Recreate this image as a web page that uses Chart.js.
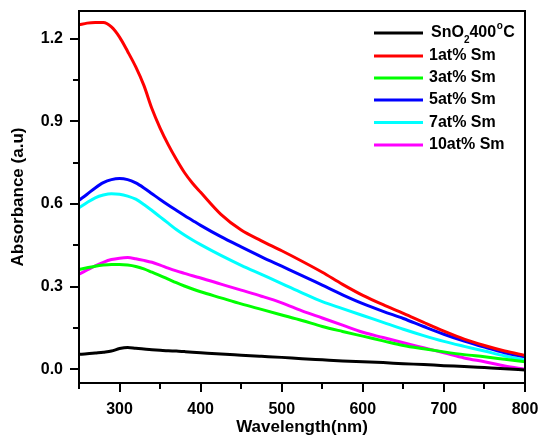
<!DOCTYPE html>
<html>
<head>
<meta charset="utf-8">
<script src="https://cdn.jsdelivr.net/npm/chart.js@4"></script>
<style>
  html, body { margin: 0; padding: 0; background: #fff; }
  #wrap { width: 542px; height: 439px; }
</style>
</head>
<body>
<div id="wrap"><canvas id="absChart" width="542" height="439"></canvas></div>
<script>
// UV-vis absorbance spectra, Sm-doped SnO2
const wavelength = [250, 260, 270, 280, 290, 300, 310, 320, 330, 340, 350, 360, 370, 380, 390, 400, 425, 450, 475, 500, 525, 550, 575, 600, 625, 650, 675, 700, 725, 750, 775, 800];

const sno2 = [0.054, 0.056, 0.059, 0.062, 0.066, 0.075, 0.079, 0.076, 0.073, 0.071, 0.069, 0.067, 0.066, 0.064, 0.062, 0.060, 0.055, 0.051, 0.047, 0.043, 0.038, 0.034, 0.030, 0.027, 0.024, 0.020, 0.017, 0.013, 0.010, 0.006, 0.002, -0.003];
const sm1  = [1.250, 1.256, 1.258, 1.258, 1.242, 1.205, 1.153, 1.097, 1.030, 0.945, 0.875, 0.815, 0.762, 0.714, 0.675, 0.642, 0.562, 0.505, 0.466, 0.430, 0.392, 0.352, 0.308, 0.268, 0.234, 0.203, 0.170, 0.138, 0.109, 0.086, 0.066, 0.050];
const sm3  = [0.362, 0.368, 0.374, 0.378, 0.380, 0.380, 0.378, 0.373, 0.364, 0.352, 0.340, 0.327, 0.314, 0.302, 0.291, 0.281, 0.259, 0.237, 0.217, 0.197, 0.177, 0.155, 0.137, 0.120, 0.103, 0.086, 0.074, 0.063, 0.053, 0.045, 0.036, 0.027];
const sm5  = [0.613, 0.635, 0.658, 0.677, 0.688, 0.692, 0.688, 0.676, 0.658, 0.637, 0.616, 0.596, 0.577, 0.558, 0.540, 0.522, 0.481, 0.444, 0.408, 0.374, 0.340, 0.305, 0.270, 0.238, 0.210, 0.184, 0.155, 0.127, 0.102, 0.080, 0.060, 0.045];
const sm7  = [0.586, 0.605, 0.622, 0.632, 0.637, 0.635, 0.628, 0.617, 0.598, 0.576, 0.553, 0.530, 0.507, 0.487, 0.469, 0.452, 0.413, 0.377, 0.344, 0.311, 0.277, 0.245, 0.220, 0.195, 0.170, 0.145, 0.122, 0.101, 0.083, 0.066, 0.048, 0.033];
const sm10 = [0.345, 0.360, 0.375, 0.388, 0.398, 0.403, 0.405, 0.401, 0.395, 0.388, 0.378, 0.367, 0.357, 0.348, 0.339, 0.331, 0.309, 0.287, 0.265, 0.241, 0.212, 0.186, 0.160, 0.134, 0.115, 0.096, 0.078, 0.060, 0.041, 0.027, 0.012, 0.000];

const seriesNames  = ['SnO2 400°C', '1at% Sm', '3at% Sm', '5at% Sm', '7at% Sm', '10at% Sm'];
const seriesValues = [sno2, sm1, sm3, sm5, sm7, sm10];
const seriesColors = ['#000000', '#ff0000', '#00ff00', '#0000ff', '#00ffff', '#ff00ff'];

const xTickValues = [250, 300, 350, 400, 450, 500, 550, 600, 650, 700, 750, 800];
const yTickValues = [0, 0.15, 0.3, 0.45, 0.6, 0.75, 0.9, 1.05, 1.2];

const FONT = '"Liberation Sans", Arial, sans-serif';

const isMajorY = v => Math.abs(v / 0.3 - Math.round(v / 0.3)) < 1e-6;
const isMajorX = v => v % 100 === 0;

// legend box, then frame and outward tick marks
const decorations = {
  id: 'decorations',
  afterDraw(chart) {
    const ctx = chart.ctx;
    const xs = chart.scales.x, ys = chart.scales.y;
    ctx.save();

    const lx0 = 374, lx1 = 423, tx = 429;
    const rowY = [33, 56, 78, 100, 122.5, 145];
    ctx.textBaseline = 'middle';
    ctx.textAlign = 'left';
    seriesNames.forEach((name, i) => {
      ctx.fillStyle = seriesColors[i];
      ctx.fillRect(lx0, rowY[i] - 1.5, lx1 - lx0, 3);
      ctx.fillStyle = '#000';
      if (i === 0) {
        ctx.font = 'bold 16px ' + FONT;
        let x = tx + 2;
        ctx.fillText('SnO', x, rowY[i]);
        x += ctx.measureText('SnO').width;
        ctx.font = 'bold 10px ' + FONT;
        ctx.fillText('2', x, rowY[i] + 7);
        x += ctx.measureText('2').width;
        ctx.font = 'bold 16px ' + FONT;
        ctx.fillText('400', x, rowY[i]);
        x += ctx.measureText('400').width;
        ctx.font = 'bold 10px ' + FONT;
        ctx.fillText('o', x + 0.5, rowY[i] - 7);
        x += ctx.measureText('o').width + 1;
        ctx.font = 'bold 16px ' + FONT;
        ctx.fillText('C', x, rowY[i]);
      } else {
        ctx.font = 'bold 16px ' + FONT;
        ctx.fillText(name, tx, rowY[i]);
      }
    });

    const L = Math.round(xs.left), R = Math.round(xs.right);
    const T = Math.round(ys.top), B = Math.round(ys.bottom);
    ctx.fillStyle = '#000';
    ctx.fillRect(L - 1, T - 1, R - L + 2, 2);
    ctx.fillRect(L - 1, B - 1, R - L + 2, 2);
    ctx.fillRect(L - 1, T - 1, 2, B - T + 2);
    ctx.fillRect(R - 1, T - 1, 2, B - T + 2);

    yTickValues.forEach(v => {
      const y = Math.round(ys.getPixelForValue(v));
      const len = isMajorY(v) ? 8 : 5;
      ctx.fillRect(L - 1 - len, y - 1, len, 2);
    });
    xTickValues.forEach(v => {
      const x = Math.round(xs.getPixelForValue(v));
      const len = isMajorX(v) ? 8 : 5;
      ctx.fillRect(x - 1, B + 1, 2, len);
    });
    ctx.restore();
  }
};

const datasets = seriesValues.map((vals, i) => ({
  label: seriesNames[i],
  data: wavelength.map((w, j) => ({ x: w, y: vals[j] })),
  borderColor: seriesColors[i],
  backgroundColor: seriesColors[i],
  borderWidth: 3,
  pointRadius: 0,
  cubicInterpolationMode: 'monotone',
  fill: false
}));

new Chart(document.getElementById('absChart').getContext('2d'), {
  type: 'line',
  data: { datasets: datasets },
  options: {
    responsive: false,
    devicePixelRatio: 1,
    animation: false,
    layout: { padding: { top: 11, right: 17, left: 0, bottom: 0 } },
    plugins: {
      legend: { display: false },
      tooltip: { enabled: false }
    },
    scales: {
      x: {
        type: 'linear',
        min: 250,
        max: 800,
        afterBuildTicks: s => { s.ticks = xTickValues.map(v => ({ value: v })); },
        afterFit: s => { s.height = 56; s.paddingLeft = 0; s.paddingRight = 0; },
        border: { display: false },
        grid: { drawOnChartArea: false, tickLength: 8, color: 'rgba(0,0,0,0)' },
        ticks: {
          color: '#000',
          padding: 9,
          maxRotation: 0,
          autoSkip: false,
          font: { family: FONT, size: 16, weight: 'bold' },
          callback: v => isMajorX(v) ? String(v) : ''
        },
        title: {
          display: true,
          text: 'Wavelength(nm)',
          color: '#000',
          padding: { top: 0, bottom: 1 },
          font: { family: FONT, size: 17, weight: 'bold' }
        }
      },
      y: {
        type: 'linear',
        min: -0.05,
        max: 1.3,
        afterBuildTicks: s => { s.ticks = yTickValues.map(v => ({ value: v })); },
        afterFit: s => { s.width = 79; s.paddingTop = 0; s.paddingBottom = 0; },
        border: { display: false },
        grid: { drawOnChartArea: false, tickLength: 8, color: 'rgba(0,0,0,0)' },
        ticks: {
          color: '#000',
          padding: 8,
          autoSkip: false,
          font: { family: FONT, size: 16, weight: 'bold' },
          callback: v => isMajorY(v) ? v.toFixed(1) : ''
        },
        title: {
          display: true,
          text: 'Absorbance (a.u)',
          color: '#000',
          padding: { top: 8, bottom: 0 },
          font: { family: FONT, size: 17, weight: 'bold' }
        }
      }
    }
  },
  plugins: [decorations]
});
</script>
</body>
</html>
